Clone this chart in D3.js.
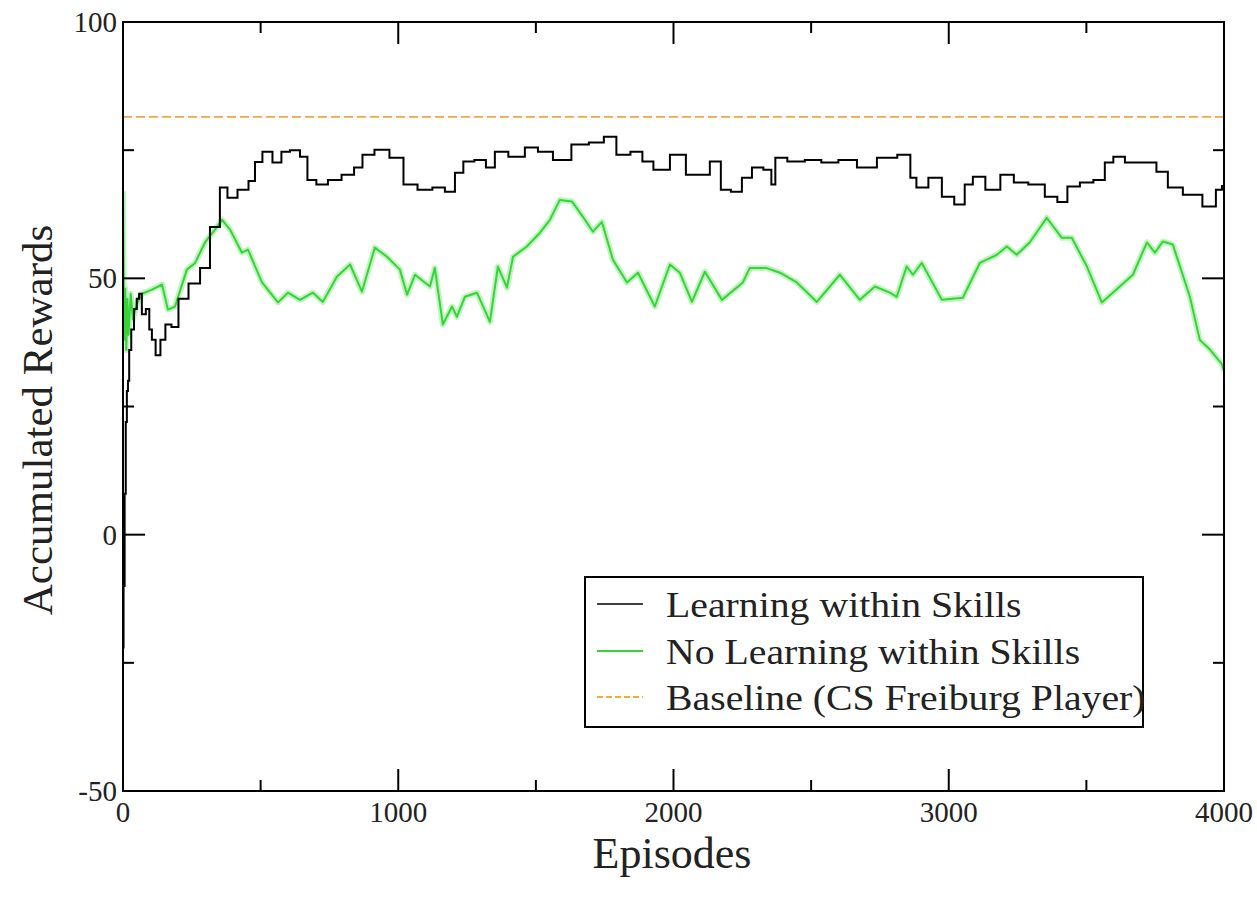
<!DOCTYPE html>
<html>
<head>
<meta charset="utf-8">
<script src="https://cdn.jsdelivr.net/npm/d3@7"></script>
<style>
  body { margin: 0; background: #fff; }
  svg { font-family: "Liberation Serif", "Times New Roman", serif; }
</style>
</head>
<body>
<svg id="chart" width="1257" height="899"></svg>
<script>
// Learning within Skills (black)
var lwsEpisodes = [0, 4, 8, 12, 16, 20, 25, 35, 45, 55, 62, 75, 91, 100, 110, 127, 145, 163, 189, 214, 262, 298, 334, 370, 389, 443, 469, 490, 523, 563, 588, 625, 661, 679, 726, 763, 825, 854, 886, 941, 995, 1043, 1097, 1151, 1188, 1224, 1249, 1304, 1333, 1369, 1431, 1489, 1526, 1598, 1660, 1725, 1769, 1816, 1871, 1903, 1951, 2023, 2067, 2107, 2157, 2187, 2230, 2267, 2303, 2350, 2361, 2379, 2448, 2506, 2568, 2630, 2703, 2775, 2851, 2870, 2895, 2957, 2993, 3047, 3069, 3106, 3160, 3215, 3258, 3320, 3378, 3411, 3451, 3502, 3549, 3585, 3611, 3669, 3731, 3778, 3814, 3887, 3956, 3985, 4000];
var lwsRewards  = [-22, -10, 8, 22, 28, 30, 36, 40, 44, 46, 47, 43, 44, 40, 38, 35, 38, 41, 40.5, 46, 49, 52, 60, 67.7, 65.7, 67.3, 69, 72.7, 74.7, 72.6, 74.7, 75, 73.7, 69.2, 68.3, 69.2, 70.2, 71.6, 74.1, 75.1, 73.5, 68.3, 67.3, 67.7, 66.9, 70.6, 72.8, 73.1, 71.6, 74.7, 73.7, 75.5, 74.7, 73.1, 76.1, 76.5, 77.6, 74.1, 74.7, 72.8, 71.2, 74.1, 70.2, 70.2, 72.8, 67.3, 66.9, 69.6, 71.6, 71.2, 68.3, 73.5, 72.8, 73.1, 72.6, 73.1, 71.6, 73.5, 74.1, 69.6, 67.7, 69.6, 65.9, 64.4, 68.3, 69.8, 67.3, 70.2, 68.7, 68.3, 65.9, 64.9, 67.9, 68.7, 69.2, 72.6, 73.7, 72.6, 72.6, 70.8, 67.7, 66.3, 64, 67.3, 68];

// No Learning within Skills (green)
var nlwsEpisodes = [0, 4, 8, 12, 16, 20, 28, 36, 50, 69, 105, 142, 163, 189, 232, 262, 298, 334, 360, 389, 432, 454, 505, 563, 599, 643, 690, 726, 777, 825, 868, 915, 959, 1006, 1032, 1061, 1115, 1133, 1162, 1195, 1213, 1242, 1286, 1333, 1362, 1395, 1417, 1467, 1515, 1551, 1587, 1631, 1671, 1707, 1740, 1780, 1831, 1871, 1932, 1987, 2023, 2067, 2114, 2176, 2252, 2277, 2339, 2387, 2448, 2521, 2604, 2677, 2732, 2786, 2811, 2847, 2870, 2902, 2975, 3051, 3113, 3175, 3211, 3247, 3294, 3356, 3411, 3447, 3502, 3556, 3596, 3669, 3720, 3749, 3778, 3814, 3876, 3912, 3949, 3993, 4000];
var nlwsRewards  = [67, 38, 48, 36, 46, 39, 47, 42, 45, 47, 47.8, 48.8, 43.9, 44.5, 51.7, 53, 57, 59.5, 61.4, 59.5, 55, 55.6, 49.2, 45.3, 47.2, 45.8, 47.2, 45.4, 50.3, 52.7, 47.4, 56, 54.2, 51.7, 46.8, 50.7, 48.4, 52, 41, 44.5, 42.5, 46.4, 47.2, 41.5, 52.3, 48.2, 54.2, 56.2, 58.9, 61.4, 65.3, 65, 62, 59.1, 61, 53.6, 49.2, 51.1, 44.5, 52.7, 51.1, 45.4, 51.3, 45.8, 49.2, 52, 52, 51.1, 49.2, 45.4, 50.7, 45.8, 48.4, 47.2, 46.4, 52.3, 50.7, 53, 45.8, 46.2, 53, 54.6, 56.2, 54.6, 57, 61.8, 57.9, 57.9, 52.3, 45.3, 47.2, 50.7, 57, 55, 57.2, 56.6, 46.4, 38, 36.1, 33.2, 32];

// Baseline (CS Freiburg Player)
var baselineValue = 81.5;

var xMajorTicks = [0, 1000, 2000, 3000, 4000];
var xMinorTicks = [500, 1500, 2500, 3500];
var yMajorTicks = [-50, 0, 50, 100];
var yMinorTicks = [-25, 25, 75];

var legendLabels = ["Learning within Skills", "No Learning within Skills", "Baseline (CS Freiburg Player)"];
var seriesColors = ["#000000", "#33d633", "#eeaa44"];

var svg = d3.select("#chart");
var margin = {left: 123, top: 22, right: 1224, bottom: 791};

var x = d3.scaleLinear().domain([0, 4000]).range([margin.left, margin.right]);
var y = d3.scaleLinear().domain([-50, 100]).range([margin.bottom, margin.top]);

var plotW = margin.right - margin.left;
var plotH = margin.bottom - margin.top;

// clip so lines stay inside the frame
svg.append("clipPath").attr("id", "clip")
  .append("rect")
    .attr("x", margin.left).attr("y", margin.top)
    .attr("width", plotW).attr("height", plotH);

var plot = svg.append("g").attr("clip-path", "url(#clip)");

// baseline
plot.append("line")
    .attr("x1", x(0)).attr("x2", x(4000))
    .attr("y1", y(baselineValue)).attr("y2", y(baselineValue))
    .attr("stroke", seriesColors[2])
    .attr("stroke-width", 1.6)
    .attr("stroke-dasharray", "9,4");

// green series, with a soft glow like the original
var nlwsData = nlwsEpisodes.map(function(e, i) { return [e, nlwsRewards[i]]; });
var greenLine = d3.line()
    .x(function(d) { return x(d[0]); })
    .y(function(d) { return y(d[1]); });

plot.append("path")
    .datum(nlwsData)
    .attr("fill", "none")
    .attr("stroke", "#c4f2c4")
    .attr("stroke-width", 6)
    .attr("stroke-linejoin", "round")
    .attr("d", greenLine);

plot.append("path")
    .datum(nlwsData)
    .attr("fill", "none")
    .attr("stroke", seriesColors[1])
    .attr("stroke-width", 2)
    .attr("stroke-linejoin", "round")
    .attr("d", greenLine);

// black series is drawn as steps
var lwsData = lwsEpisodes.map(function(e, i) { return [e, lwsRewards[i]]; });
var blackLine = d3.line()
    .curve(d3.curveStep)
    .x(function(d) { return x(d[0]); })
    .y(function(d) { return y(d[1]); });

plot.append("path")
    .datum(lwsData)
    .attr("fill", "none")
    .attr("stroke", seriesColors[0])
    .attr("stroke-width", 2)
    .attr("d", blackLine);

// frame
svg.append("rect")
    .attr("x", margin.left).attr("y", margin.top)
    .attr("width", plotW).attr("height", plotH)
    .attr("fill", "none")
    .attr("stroke", "#000")
    .attr("stroke-width", 2);

// ticks on all four sides, pointing inwards
var tickG = svg.append("g");

function addXTicks(g, ticks, len) {
  ticks.forEach(function(t) {
    g.append("line").attr("x1", x(t)).attr("x2", x(t))
      .attr("y1", margin.bottom).attr("y2", margin.bottom - len)
      .attr("stroke", "#000").attr("stroke-width", 2);
    g.append("line").attr("x1", x(t)).attr("x2", x(t))
      .attr("y1", margin.top).attr("y2", margin.top + len)
      .attr("stroke", "#000").attr("stroke-width", 2);
  });
}
addXTicks(tickG, xMajorTicks, 22);
addXTicks(tickG, xMinorTicks, 11);

function addYTicks(g, ticks, len) {
  ticks.forEach(function(t) {
    g.append("line").attr("x1", margin.left).attr("x2", margin.left + len)
      .attr("y1", y(t)).attr("y2", y(t))
      .attr("stroke", "#000").attr("stroke-width", 2);
    g.append("line").attr("x1", margin.right).attr("x2", margin.right - len)
      .attr("y1", y(t)).attr("y2", y(t))
      .attr("stroke", "#000").attr("stroke-width", 2);
  });
}
addYTicks(tickG, yMajorTicks, 22);
addYTicks(tickG, yMinorTicks, 11);

// tick labels
svg.append("g").selectAll("text")
  .data(xMajorTicks)
  .enter().append("text")
    .attr("x", function(d) { return x(d); })
    .attr("y", margin.bottom + 31)
    .attr("text-anchor", "middle")
    .attr("font-size", 29)
    .attr("fill", "#222")
    .text(function(d) { return d; });

svg.append("g").selectAll("text")
  .data(yMajorTicks)
  .enter().append("text")
    .attr("x", margin.left - 6)
    .attr("y", function(d) { return y(d) + 10; })
    .attr("text-anchor", "end")
    .attr("font-size", 29)
    .attr("fill", "#222")
    .text(function(d) { return d; });

// axis titles
svg.append("text")
    .attr("x", 672)
    .attr("y", 868)
    .attr("text-anchor", "middle")
    .attr("font-size", 44)
    .attr("fill", "#222")
    .text("Episodes");

svg.append("text")
    .attr("transform", "translate(52,420) rotate(-90)")
    .attr("text-anchor", "middle")
    .attr("font-size", 43)
    .attr("fill", "#222")
    .text("Accumulated Rewards");

// legend
var legend = svg.append("g");
legend.append("rect")
    .attr("x", 585).attr("y", 577)
    .attr("width", 558).attr("height", 150)
    .attr("fill", "#fff")
    .attr("stroke", "#000")
    .attr("stroke-width", 2);

var legendY = [604, 651, 697];
legendLabels.forEach(function(lbl, i) {
  legend.append("line")
    .attr("x1", 597).attr("x2", 643)
    .attr("y1", legendY[i]).attr("y2", legendY[i])
    .attr("stroke", seriesColors[i])
    .attr("stroke-width", i === 0 ? 1.5 : 2)
    .attr("stroke-dasharray", i === 2 ? "6,3" : null);
  legend.append("text")
    .attr("transform", "translate(666," + (legendY[i] + 13) + ") scale(1.12,1)")
    .attr("font-size", 35.5)
    .attr("fill", "#222")
    .text(lbl);
});
</script>
</body>
</html>
